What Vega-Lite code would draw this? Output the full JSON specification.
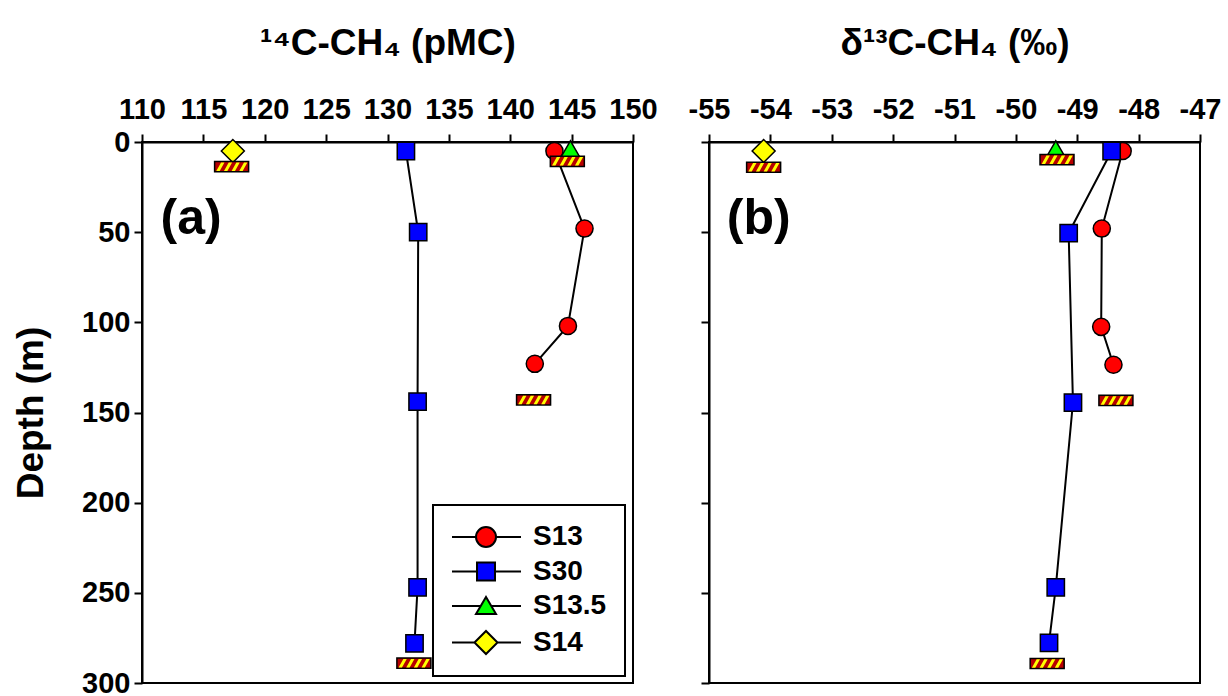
{
  "$schema": "https://vega.github.io/schema/vega-lite/v6.json",
  "autosize": {"type": "none"},
  "padding": {"left": 142, "top": 142, "right": 1086, "bottom": 554},
  "bounds": "flush",
  "spacing": 76,
  "config": {
    "font": "Liberation Sans",
    "view": {"stroke": "black", "strokeWidth": 2},
    "axis": {
      "grid": false,
      "domainColor": "black",
      "domainWidth": 2,
      "tickColor": "black",
      "tickWidth": 2,
      "tickSize": 8,
      "labelFont": "Liberation Sans",
      "labelFontWeight": "bold",
      "labelFontSize": 29,
      "labelColor": "black",
      "titleFont": "Liberation Sans",
      "titleFontWeight": "bold",
      "titleColor": "black",
      "labelFlush": false,
      "labelOverlap": false
    },
    "legend": {
      "strokeWidth": 2,
      "strokeColor": "black",
      "fillColor": "white",
      "padding": 18,
      "rowPadding": 6.5,
      "symbolSize": 400,
      "labelOffset": 54,
      "labelFontSize": 28,
      "labelFont": "Liberation Sans",
      "labelFontWeight": "bold",
      "labelColor": "black",
      "symbolStrokeColor": "black",
      "symbolStrokeWidth": 2,
      "symbolOpacity": 1
    }
  },
  "resolve": {
    "scale": {"shape": "independent", "fill": "independent", "size": "independent", "stroke": "independent"},
    "legend": {"shape": "independent", "fill": "independent", "size": "independent", "stroke": "independent"}
  },
  "datasets": {
    "pmc": [
      {"series": "S13", "x": 143.6, "depth": 5},
      {"series": "S13", "x": 146.05, "depth": 48},
      {"series": "S13", "x": 144.7, "depth": 102},
      {"series": "S13", "x": 142.0, "depth": 123},
      {"series": "S30", "x": 131.5, "depth": 5},
      {"series": "S30", "x": 132.5, "depth": 50},
      {"series": "S30", "x": 132.45, "depth": 144},
      {"series": "S30", "x": 132.45, "depth": 247},
      {"series": "S30", "x": 132.2, "depth": 278},
      {"series": "S13.5", "x": 144.9, "depth": 4},
      {"series": "S14", "x": 117.4, "depth": 5}
    ],
    "d13": [
      {"series": "S13", "x": -48.26, "depth": 5},
      {"series": "S13", "x": -48.6, "depth": 48},
      {"series": "S13", "x": -48.61, "depth": 102.5},
      {"series": "S13", "x": -48.41, "depth": 123.5},
      {"series": "S30", "x": -48.44, "depth": 5},
      {"series": "S30", "x": -49.14, "depth": 50.5},
      {"series": "S30", "x": -49.07, "depth": 144.5},
      {"series": "S30", "x": -49.35, "depth": 247},
      {"series": "S30", "x": -49.46, "depth": 277.7},
      {"series": "S13.5", "x": -49.35, "depth": 4},
      {"series": "S14", "x": -54.11, "depth": 5}
    ],
    "bars_a": [
      {"x": 117.3, "depth": 13.7},
      {"x": 144.65, "depth": 10.7},
      {"x": 141.9, "depth": 143},
      {"x": 132.15, "depth": 289}
    ],
    "bars_b": [
      {"x": -54.11, "depth": 14},
      {"x": -49.33, "depth": 9.8},
      {"x": -48.37, "depth": 143.3},
      {"x": -49.49, "depth": 289.2}
    ],
    "panel_a": [{"label": "(a)", "x": 114, "depth": 51}],
    "panel_b": [{"label": "(b)", "x": -54.19, "depth": 51}]
  },
  "hconcat": [
    {
      "width": 491,
      "height": 541,
      "resolve": {"scale": {"shape": "independent", "fill": "independent", "size": "independent", "stroke": "independent"}},
      "encoding": {
        "x": {
          "field": "x", "type": "quantitative",
          "scale": {"domain": [110, 150], "nice": false, "zero": false},
          "axis": {"orient": "top", "values": [110, 115, 120, 125, 130, 135, 140, 145, 150], "labelExpr": "toString(datum.value)", "title": "¹⁴C-CH₄ (pMC)", "titleFontSize": 37, "labelPadding": 10, "titlePadding": 33}
        },
        "y": {
          "field": "depth", "type": "quantitative",
          "scale": {"domain": [0, 300], "nice": false, "zero": false, "reverse": true},
          "axis": {"values": [0, 50, 100, 150, 200, 250, 300], "title": "Depth (m)", "titleFontSize": 37, "labelPadding": 4, "titlePadding": 31}
        }
      },
      "layer": [
        {
          "data": {"name": "pmc"},
          "mark": {"type": "line", "color": "black", "strokeWidth": 2},
          "encoding": {"detail": {"field": "series"}, "order": {"field": "depth", "type": "quantitative"}}
        },
        {
          "data": {"name": "pmc"},
          "mark": {"type": "point", "filled": true, "stroke": "black", "strokeWidth": 1.5, "opacity": 1},
          "encoding": {
            "shape": {
              "field": "series", "type": "nominal",
              "scale": {"domain": ["S13", "S30", "S13.5", "S14"], "range": ["circle", "square", "triangle-up", "diamond"]},
              "legend": null
            },
            "fill": {
              "field": "series", "type": "nominal",
              "scale": {"domain": ["S13", "S30", "S13.5", "S14"], "range": ["#FF0000", "#0000FF", "#00FF00", "#FFFF00"]},
              "legend": null
            },
            "size": {
              "field": "series", "type": "nominal",
              "scale": {"type": "ordinal", "domain": ["S13", "S30", "S13.5", "S14"], "range": [292, 300, 380, 529]},
              "legend": null
            }
          }
        },
        {
          "data": {"name": "bars_a"},
          "mark": {"type": "point", "shape": "M-1,-0.3L1,-0.3L1,0.3L-1,0.3Z", "size": 1156, "filled": true, "fill": "#B80000", "stroke": "black", "strokeWidth": 1.5, "opacity": 1}
        },
        {
          "data": {"name": "bars_a"},
          "mark": {"type": "point", "shape": "M-0.9,0.25L-0.62,-0.25L-0.42,-0.25L-0.7,0.25Z M-0.45,0.25L-0.17,-0.25L0.03,-0.25L-0.25,0.25Z M0,0.25L0.28,-0.25L0.48,-0.25L0.2,0.25Z M0.45,0.25L0.73,-0.25L0.93,-0.25L0.65,0.25Z", "size": 1156, "filled": true, "fill": "#FFFF00", "strokeWidth": 0, "opacity": 1}
        },
        {
          "data": {"name": "panel_a"},
          "mark": {"type": "text", "font": "Liberation Sans", "fontSize": 50, "fontWeight": "bold", "align": "center", "baseline": "alphabetic", "color": "black"},
          "encoding": {"text": {"field": "label"}}
        },
        {
          "data": {"name": "pmc"},
          "transform": [{"filter": "false"}],
          "mark": {"type": "point", "filled": true, "strokeWidth": 2, "opacity": 1},
          "encoding": {
            "shape": {
              "field": "series", "type": "nominal",
              "scale": {"domain": ["S13", "S30", "S13.5", "S14"], "range": [
                "M-1.3,0L1.1,0M3.1,0L5.6,0M1.1,0A1,1,0,1,0,3.1,0A1,1,0,1,0,1.1,0Z",
                "M-1.3,0L1.2,0M3,0L5.6,0M1.2,-0.9L3,-0.9L3,0.9L1.2,0.9Z",
                "M-1.3,0L1.55,0M2.65,0L5.6,0M2.1,-0.9L3.1,0.8L1.1,0.8Z",
                "M-1.3,0L0.95,0M3.25,0L5.6,0M0.95,0L2.1,-1.15L3.25,0L2.1,1.15Z"
              ]},
              "legend": {"title": null, "orient": "none", "legendX": 291, "legendY": 363}
            },
            "fill": {
              "field": "series", "type": "nominal",
              "scale": {"domain": ["S13", "S30", "S13.5", "S14"], "range": ["#FF0000", "#0000FF", "#00FF00", "#FFFF00"]},
              "legend": {"title": null, "orient": "none", "legendX": 291, "legendY": 363}
            },
            "stroke": {
              "field": "series", "type": "nominal",
              "scale": {"domain": ["S13", "S30", "S13.5", "S14"], "range": ["#000000", "#000000", "#000000", "#000000"]},
              "legend": {"title": null, "orient": "none", "legendX": 291, "legendY": 363}
            }
          }
        }
      ]
    },
    {
      "width": 491,
      "height": 541,
      "encoding": {
        "x": {
          "field": "x", "type": "quantitative",
          "scale": {"domain": [-55, -47], "nice": false, "zero": false},
          "axis": {"orient": "top", "values": [-55, -54, -53, -52, -51, -50, -49, -48, -47], "labelExpr": "toString(datum.value)", "title": "δ¹³C-CH₄ (‰)", "titleFontSize": 37, "labelPadding": 10, "titlePadding": 33}
        },
        "y": {
          "field": "depth", "type": "quantitative",
          "scale": {"domain": [0, 300], "nice": false, "zero": false, "reverse": true},
          "axis": {"values": [0, 50, 100, 150, 200, 250, 300], "labels": false, "title": null}
        }
      },
      "layer": [
        {
          "data": {"name": "d13"},
          "mark": {"type": "line", "color": "black", "strokeWidth": 2},
          "encoding": {"detail": {"field": "series"}, "order": {"field": "depth", "type": "quantitative"}}
        },
        {
          "data": {"name": "d13"},
          "mark": {"type": "point", "filled": true, "stroke": "black", "strokeWidth": 1.5, "opacity": 1},
          "encoding": {
            "shape": {
              "field": "series", "type": "nominal",
              "scale": {"domain": ["S13", "S30", "S13.5", "S14"], "range": ["circle", "square", "triangle-up", "diamond"]},
              "legend": null
            },
            "fill": {
              "field": "series", "type": "nominal",
              "scale": {"domain": ["S13", "S30", "S13.5", "S14"], "range": ["#FF0000", "#0000FF", "#00FF00", "#FFFF00"]},
              "legend": null
            },
            "size": {
              "field": "series", "type": "nominal",
              "scale": {"type": "ordinal", "domain": ["S13", "S30", "S13.5", "S14"], "range": [292, 300, 380, 529]},
              "legend": null
            }
          }
        },
        {
          "data": {"name": "bars_b"},
          "mark": {"type": "point", "shape": "M-1,-0.3L1,-0.3L1,0.3L-1,0.3Z", "size": 1156, "filled": true, "fill": "#B80000", "stroke": "black", "strokeWidth": 1.5, "opacity": 1}
        },
        {
          "data": {"name": "bars_b"},
          "mark": {"type": "point", "shape": "M-0.9,0.25L-0.62,-0.25L-0.42,-0.25L-0.7,0.25Z M-0.45,0.25L-0.17,-0.25L0.03,-0.25L-0.25,0.25Z M0,0.25L0.28,-0.25L0.48,-0.25L0.2,0.25Z M0.45,0.25L0.73,-0.25L0.93,-0.25L0.65,0.25Z", "size": 1156, "filled": true, "fill": "#FFFF00", "strokeWidth": 0, "opacity": 1}
        },
        {
          "data": {"name": "panel_b"},
          "mark": {"type": "text", "font": "Liberation Sans", "fontSize": 50, "fontWeight": "bold", "align": "center", "baseline": "alphabetic", "color": "black"},
          "encoding": {"text": {"field": "label"}}
        }
      ]
    }
  ]
}
